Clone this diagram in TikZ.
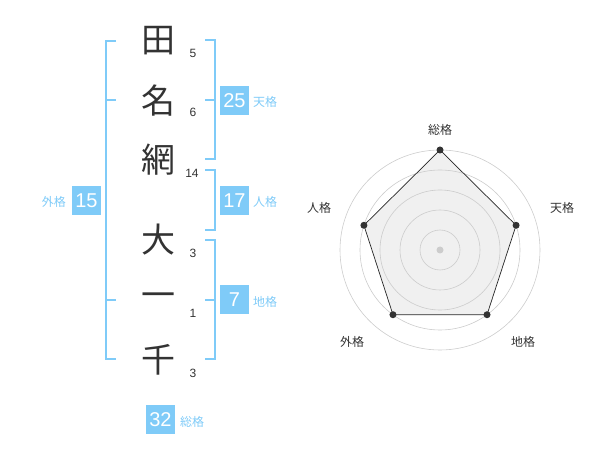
\documentclass[tikz,border=0pt]{standalone}
\usepackage{fontspec}
\usetikzlibrary{calc}
\setmainfont{Liberation Sans}
\newfontfamily\jp{Noto Sans CJK JP}
\definecolor{acc}{HTML}{7FCBF8}
\definecolor{ink}{HTML}{333333}
\begin{document}
\begin{tikzpicture}[x=1pt,y=-1pt,
 kanji/.style={font=\jp\fontsize{34}{34}\selectfont, text=ink, inner sep=0},
 strokes/.style={font=\fontsize{12}{12}\selectfont, text=ink, inner sep=0},
 numbox/.style={fill=acc, text=white, minimum size=29pt, inner sep=0, font=\fontsize{20}{20}\selectfont},
 kaku/.style={font=\jp\fontsize{12}{12}\selectfont, text=acc, inner sep=0},
 brk/.style={draw=acc, line width=2pt},
 ring/.style={draw=black!20, line width=0.6pt},
 rlabel/.style={font=\jp\fontsize{12}{12}\selectfont, text=ink, inner sep=0},
 vdot/.style={circle, fill=ink, inner sep=0, minimum size=7pt}]
\useasboundingbox (0,0) rectangle (600,470);
% kanji
\node[kanji] (k1) at (158,41) {田};
\node[kanji] (k2) at (158,101) {名};
\node[kanji] (k3) at (158,160) {網};
\node[kanji] (k4) at (158,240) {大};
\node[kanji] (k5) at (158,300) {一};
\node[kanji] (k6) at (158,360) {千};
% stroke counts
\node[strokes] (s1) at (193,53) {5};
\node[strokes] (s2) at (193,112) {6};
\node[strokes] (s3) at (192,173) {14};
\node[strokes] (s4) at (193,253) {3};
\node[strokes] (s5) at (193,313) {1};
\node[strokes] (s6) at (193,373) {3};
% brackets
\draw[brk] (116,41) -- (106,41) -- (106,359) -- (116,359);
\draw[brk] (106,100) -- (116,100);
\draw[brk] (106,300) -- (116,300);
\draw[brk] (205,40) -- (215,40) -- (215,159) -- (205,159);
\draw[brk] (205,100) -- (215,100);
\draw[brk] (205,170) -- (215,170) -- (215,230) -- (205,230);
\draw[brk] (205,240) -- (215,240) -- (215,359) -- (205,359);
\draw[brk] (205,300) -- (215,300);
% boxes
\node[numbox] (b25) at (234.5,100.5) {25};
\node[numbox] (b17) at (234.5,200.5) {17};
\node[numbox] (b7) at (234.5,300) {7};
\node[numbox] (b15) at (86.5,200.5) {15};
\node[numbox] (b32) at (160.5,419.5) {32};
\node[kaku, anchor=west] (l25) at (253,102) {天格};
\node[kaku, anchor=west] (l17) at (253,202) {人格};
\node[kaku, anchor=west] (l7) at (253,302) {地格};
\node[kaku, anchor=east] (l15) at (66,202) {外格};
\node[kaku, anchor=west] (l32) at (180,422) {総格};
% radar
\coordinate (c) at (440,250);
\coordinate (p1) at ($(c)+(-90:100)$);
\coordinate (p2) at ($(c)+(-18:80)$);
\coordinate (p3) at ($(c)+(54:80)$);
\coordinate (p4) at ($(c)+(126:80)$);
\coordinate (p5) at ($(c)+(198:80)$);
\fill[black!6] (p1) -- (p2) -- (p3) -- (p4) -- (p5) -- cycle;
\foreach \r in {20,40,60,80,100} \draw[ring] (c) circle[radius=\r];
\draw[draw=black!85, line width=0.7pt] (p1) -- (p2) -- (p3) -- (p4) -- (p5) -- cycle;
\fill[black!20] (c) circle[radius=3.5];
\foreach \i in {1,...,5} \node[vdot] (d\i) at (p\i) {};
\node[rlabel] (r1) at (440,130) {総格};
\node[rlabel] (r2) at (562,208) {天格};
\node[rlabel] (r3) at (523,342) {地格};
\node[rlabel] (r4) at (352,342) {外格};
\node[rlabel] (r5) at (319,208) {人格};
\end{tikzpicture}
\end{document}
